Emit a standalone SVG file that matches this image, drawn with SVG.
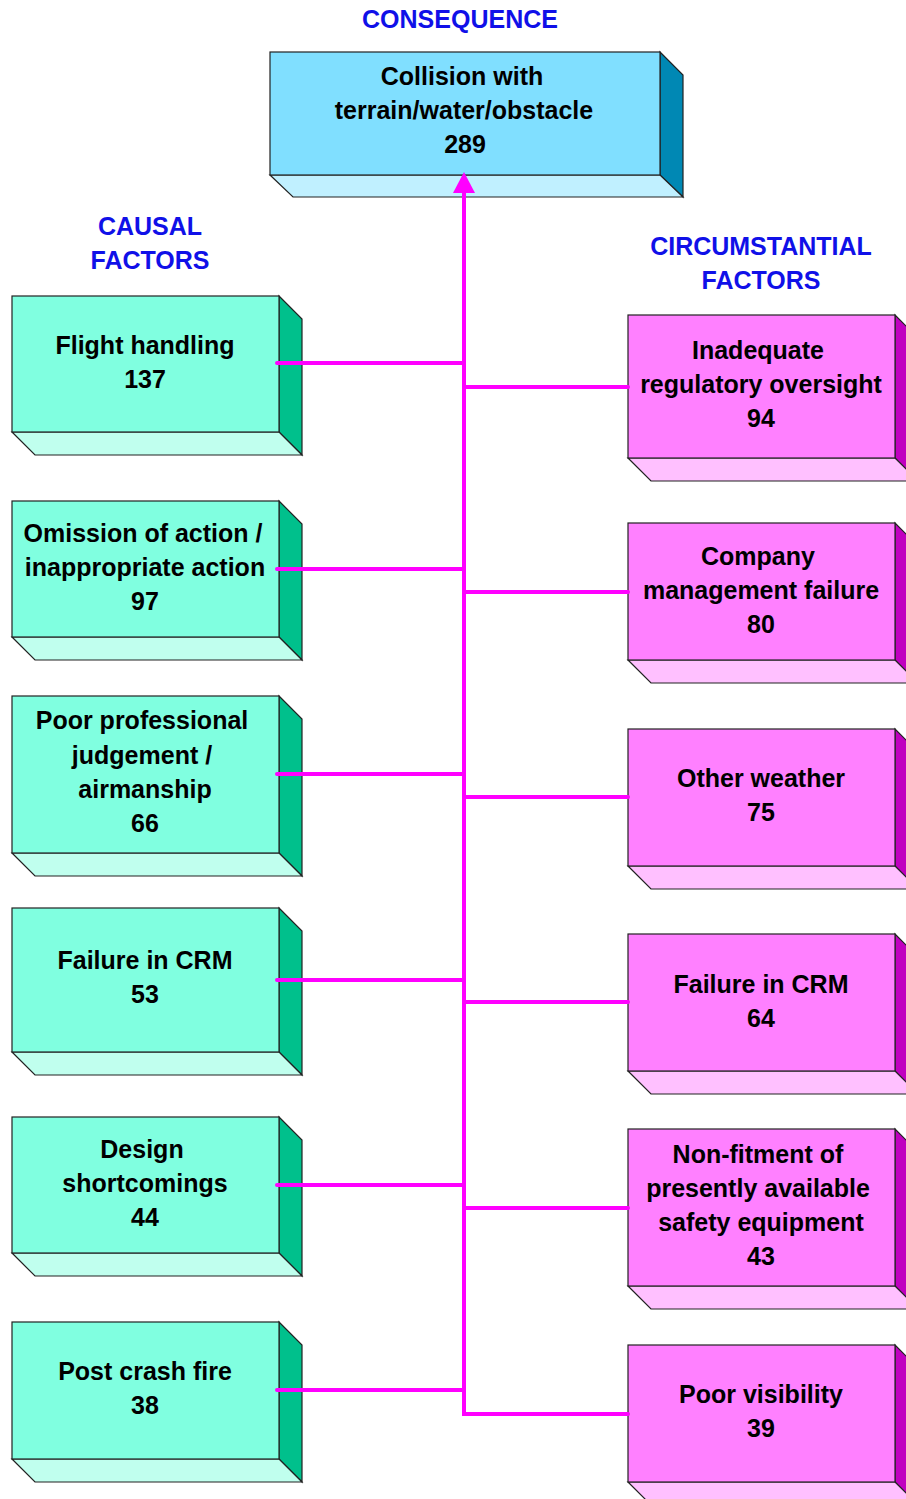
<svg xmlns="http://www.w3.org/2000/svg" width="906" height="1499" viewBox="0 0 906 1499">
<style>
text{font-family:"Liberation Sans",Arial,sans-serif;font-weight:bold;font-size:25px;text-anchor:middle;fill:#000}
.h{fill:#1010E8}
.box path,.box rect{stroke:#222;stroke-width:1.2;stroke-linejoin:miter}
.tf{fill:#80DFFF}.ts{fill:#0088B4}.tb{fill:#C0F0FF}
.gf{fill:#80FFE0}.gs{fill:#00C08C}.gb{fill:#C0FFEE}
.mf{fill:#FF80FF}.ms{fill:#C000C0}.mb{fill:#FFC0FF}
.c{fill:none;stroke:#FF00FF;stroke-width:4;stroke-linecap:round;stroke-linejoin:miter}
.ah{fill:#FF00FF}
</style>

<text class="h" x="460" y="28">CONSEQUENCE</text>
<text class="h" x="150" y="235">CAUSAL</text>
<text class="h" x="150" y="269">FACTORS</text>
<text class="h" x="761" y="255">CIRCUMSTANTIAL</text>
<text class="h" x="761" y="289">FACTORS</text>

<g id="consequence" class="box">
<path class="ts" d="M660,52 L683,75 L683,197 L660,175 Z"/>
<path class="tb" d="M270,175 L660,175 L683,197 L293,197 Z"/>
<rect class="tf" x="270" y="52" width="390" height="123"/>
<text x="462" y="85">Collision with</text>
<text x="464" y="119">terrain/water/obstacle</text>
<text x="465" y="153">289</text>
</g>

<g id="c1" class="box">
<path class="gs" d="M279,296 L302,319 L302,455 L279,432 Z"/>
<path class="gb" d="M12,432 L279,432 L302,455 L35,455 Z"/>
<rect class="gf" x="12" y="296" width="267" height="136"/>
<text x="145" y="354">Flight handling</text>
<text x="145" y="388">137</text>
</g>
<g id="c2" class="box">
<path class="gs" d="M279,501 L302,524 L302,660 L279,637 Z"/>
<path class="gb" d="M12,637 L279,637 L302,660 L35,660 Z"/>
<rect class="gf" x="12" y="501" width="267" height="136"/>
<text x="143" y="542">Omission of action /</text>
<text x="145" y="576">inappropriate action</text>
<text x="145" y="610">97</text>
</g>
<g id="c3" class="box">
<path class="gs" d="M279,696 L302,719 L302,876 L279,853 Z"/>
<path class="gb" d="M12,853 L279,853 L302,876 L35,876 Z"/>
<rect class="gf" x="12" y="696" width="267" height="157"/>
<text x="142" y="729">Poor professional</text>
<text x="142" y="764">judgement /</text>
<text x="145" y="798">airmanship</text>
<text x="145" y="832">66</text>
</g>
<g id="c4" class="box">
<path class="gs" d="M279,908 L302,931 L302,1075 L279,1052 Z"/>
<path class="gb" d="M12,1052 L279,1052 L302,1075 L35,1075 Z"/>
<rect class="gf" x="12" y="908" width="267" height="144"/>
<text x="145" y="969">Failure in CRM</text>
<text x="145" y="1003">53</text>
</g>
<g id="c5" class="box">
<path class="gs" d="M279,1117 L302,1140 L302,1276 L279,1253 Z"/>
<path class="gb" d="M12,1253 L279,1253 L302,1276 L35,1276 Z"/>
<rect class="gf" x="12" y="1117" width="267" height="136"/>
<text x="142" y="1158">Design</text>
<text x="145" y="1192">shortcomings</text>
<text x="145" y="1226">44</text>
</g>
<g id="c6" class="box">
<path class="gs" d="M279,1322 L302,1345 L302,1482 L279,1459 Z"/>
<path class="gb" d="M12,1459 L279,1459 L302,1482 L35,1482 Z"/>
<rect class="gf" x="12" y="1322" width="267" height="137"/>
<text x="145" y="1380">Post crash fire</text>
<text x="145" y="1414">38</text>
</g>

<g id="f1" class="box">
<path class="ms" d="M895,315 L918,338 L918,481 L895,458 Z"/>
<path class="mb" d="M628,458 L895,458 L918,481 L651,481 Z"/>
<rect class="mf" x="628" y="315" width="267" height="143"/>
<text x="758" y="359">Inadequate</text>
<text x="761" y="393">regulatory oversight</text>
<text x="761" y="427">94</text>
</g>
<g id="f2" class="box">
<path class="ms" d="M895,523 L918,546 L918,683 L895,660 Z"/>
<path class="mb" d="M628,660 L895,660 L918,683 L651,683 Z"/>
<rect class="mf" x="628" y="523" width="267" height="137"/>
<text x="758" y="565">Company</text>
<text x="761" y="599">management failure</text>
<text x="761" y="633">80</text>
</g>
<g id="f3" class="box">
<path class="ms" d="M895,729 L918,752 L918,889 L895,866 Z"/>
<path class="mb" d="M628,866 L895,866 L918,889 L651,889 Z"/>
<rect class="mf" x="628" y="729" width="267" height="137"/>
<text x="761" y="787">Other weather</text>
<text x="761" y="821">75</text>
</g>
<g id="f4" class="box">
<path class="ms" d="M895,934 L918,957 L918,1094 L895,1071 Z"/>
<path class="mb" d="M628,1071 L895,1071 L918,1094 L651,1094 Z"/>
<rect class="mf" x="628" y="934" width="267" height="137"/>
<text x="761" y="993">Failure in CRM</text>
<text x="761" y="1027">64</text>
</g>
<g id="f5" class="box">
<path class="ms" d="M895,1129 L918,1152 L918,1309 L895,1286 Z"/>
<path class="mb" d="M628,1286 L895,1286 L918,1309 L651,1309 Z"/>
<rect class="mf" x="628" y="1129" width="267" height="157"/>
<text x="758" y="1163">Non-fitment of</text>
<text x="758" y="1197">presently available</text>
<text x="761" y="1231">safety equipment</text>
<text x="761" y="1265">43</text>
</g>
<g id="f6" class="box">
<path class="ms" d="M895,1345 L918,1368 L918,1505 L895,1482 Z"/>
<path class="mb" d="M628,1482 L895,1482 L918,1505 L651,1505 Z"/>
<rect class="mf" x="628" y="1345" width="267" height="137"/>
<text x="761" y="1403">Poor visibility</text>
<text x="761" y="1437">39</text>
</g>

<g id="connectors">
<path class="c" d="M628,1414 H464 V193" stroke-linecap="butt"/>
<path class="ah" d="M453,193 L464,172 L475,193 Z"/>
<path class="c" d="M277,363 H464 M277,569 H464 M277,774 H464 M277,980 H464 M277,1185 H464 M277,1390 H464"/>
<path class="c" d="M464,387 H628 M464,592 H628 M464,797 H628 M464,1002 H628 M464,1208 H628"/>
</g>
</svg>
